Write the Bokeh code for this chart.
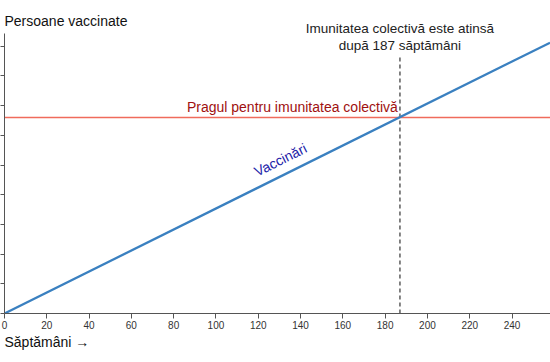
from bokeh.plotting import figure
from bokeh.models import Range1d, Label, FixedTicker, CustomJSTickFormatter, Title
from bokeh.embed import file_html
from bokeh.resources import INLINE
import math

# data
weeks = [0, 258]
vaccinated = [0, 18_240_000]
threshold = 13_200_000
threshold_week = 187
x_ticks = list(range(0, 280, 20))
y_ticks = list(range(0, 20_000_000, 2_000_000))
y_axis_top = 18_860_000

FONT = "Liberation Sans"
X_END = 258.2
Y_END = 21_080_000

p = figure(width=550, height=362, output_backend="svg", toolbar_location=None,
           x_range=Range1d(0, X_END), y_range=Range1d(0, Y_END),
           min_border_left=4, min_border_right=0, min_border_top=0, min_border_bottom=49)
p.outline_line_color = None
p.grid.visible = False
p.background_fill_color = "white"

p.xaxis.ticker = FixedTicker(ticks=x_ticks)
p.xaxis.major_label_text_font = FONT
p.xaxis.major_label_text_font_size = "10px"
p.xaxis.major_label_text_color = "#333333"
p.xaxis.axis_line_color = "#555555"
p.xaxis.major_tick_line_color = "#555555"
p.xaxis.major_tick_out = 5
p.xaxis.major_tick_in = 0
p.xaxis.minor_tick_line_color = None
p.xaxis.major_label_standoff = 2

p.yaxis.ticker = FixedTicker(ticks=y_ticks)
p.yaxis.bounds = (0, y_axis_top)
p.yaxis.formatter = CustomJSTickFormatter(code="return '';")
p.yaxis.major_label_standoff = 0
p.yaxis.axis_line_color = "#555555"
p.yaxis.major_tick_line_color = "#555555"
p.yaxis.major_tick_out = 4
p.yaxis.major_tick_in = 0
p.yaxis.minor_tick_line_color = None

# threshold line
p.line(x=[0, X_END], y=[threshold, threshold], line_color="#f06b5c", line_width=1.6)
# dashed vertical line
p.line(x=[threshold_week, threshold_week], y=[0, 17_370_000], line_color="#666666",
       line_width=1.6, line_dash="4 3")
# vaccination line
p.line(x=weeks, y=vaccinated, line_color="#3a80c0", line_width=2.3)

frame_h = 313
frame_w = 546
ang = math.atan((vaccinated[1] / weeks[1]) * (frame_h / Y_END) / (frame_w / X_END))

p.add_layout(Label(x=130.5, y=10_350_000, text="Vaccinări", angle=ang,
                   text_align="center", text_baseline="middle",
                   text_font=FONT, text_font_size="14px", text_color="#2222a8"))
p.add_layout(Label(x=186, y=threshold, y_offset=3, text="Pragul pentru imunitatea colectivă",
                   text_align="right", text_baseline="bottom",
                   text_font=FONT, text_font_size="14px", text_color="#a01010"))
p.add_layout(Label(x=threshold_week, y=19_190_000, text="Imunitatea colectivă este atinsă",
                   text_align="center", text_baseline="middle",
                   text_font=FONT, text_font_size="13.5px", text_color="#222222"))
p.add_layout(Label(x=threshold_week, y=18_050_000, text="după 187 săptămâni",
                   text_align="center", text_baseline="middle",
                   text_font=FONT, text_font_size="13.5px", text_color="#222222"))
p.add_layout(Label(x=0, y=19_730_000, text="Persoane vaccinate",
                   text_align="left", text_baseline="middle",
                   text_font=FONT, text_font_size="14px", text_color="#111111"))

p.add_layout(Title(text="Săptămâni →", align="left", text_font=FONT,
                   text_font_size="14px", text_font_style="normal",
                   text_color="#111111", standoff=0), "below")

open("out.html", "w").write(file_html(p, INLINE))
